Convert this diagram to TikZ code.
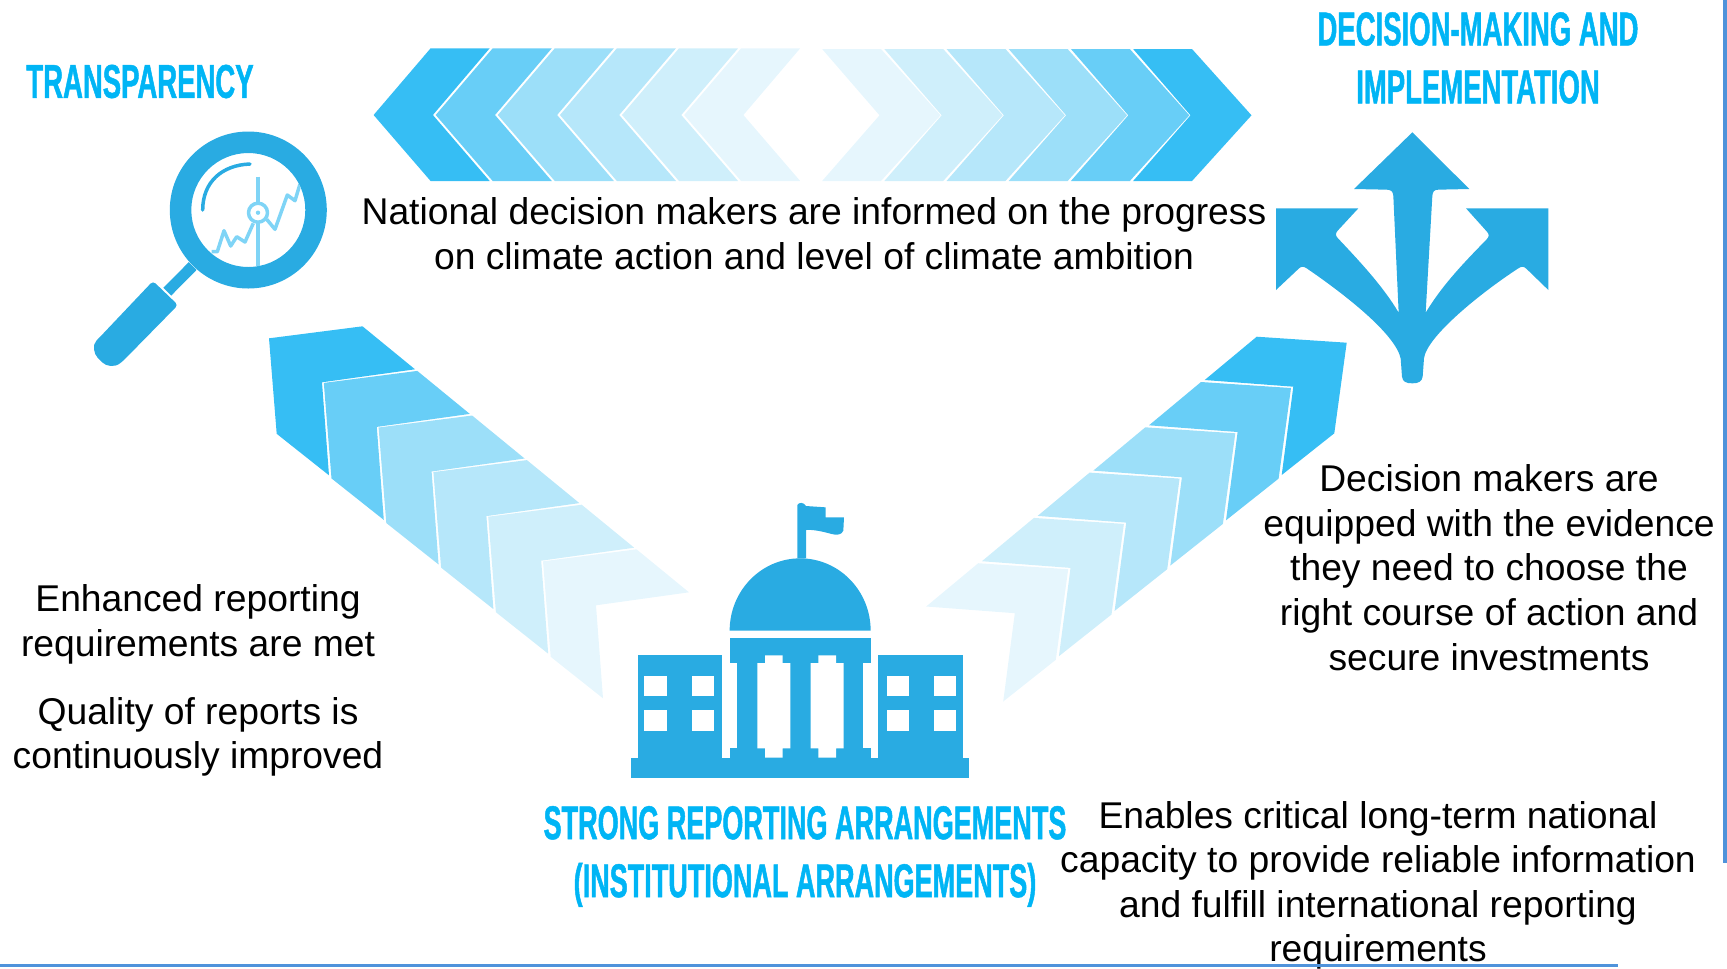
\documentclass[tikz,border=0pt]{standalone}
\usepackage{fontspec}
\setmainfont{Liberation Sans}
\newfontfamily\headfont[FakeStretch=0.58,FakeBold=1]{Liberation Sans Bold}
\newfontfamily\longheadfont[FakeStretch=0.57,FakeBold=1]{Liberation Sans Bold}
\definecolor{iconblue}{HTML}{29ABE2}
\definecolor{headblue}{HTML}{00B5F5}
\definecolor{ruleblue}{HTML}{4F93DB}
\definecolor{chartblue}{HTML}{7FD4F6}
\definecolor{shadeA}{HTML}{36BEF4}
\definecolor{shadeB}{HTML}{68CEF7}
\definecolor{shadeC}{HTML}{9CDFF9}
\definecolor{shadeD}{HTML}{B6E7FA}
\definecolor{shadeE}{HTML}{CFEFFB}
\definecolor{shadeF}{HTML}{E6F6FD}
\tikzset{
    bodytext/.style={align=center,inner sep=0pt,font=\fontsize{21.2}{25.4}\selectfont},
    headtext/.style={align=center,inner sep=0pt,text=headblue,font=\fontsize{27}{33}\selectfont\headfont},
    chartline/.style={draw=chartblue,line width=0.07cm,line join=round}
}
\begin{document}
\begin{tikzpicture}[x=0.02cm,y=-0.02cm]
    \useasboundingbox (0,0) rectangle (1727,968);
    %top band, left half then right half
    \foreach \i/\shade in {0/shadeA,1/shadeB,2/shadeC,3/shadeD,4/shadeE,5/shadeF}{
        \fill[\shade] (373.6+62.1*\i,115)--(430.6+62.1*\i,48.3)--(489.7+62.1*\i,48.3)--(432.9+62.1*\i,115)--(489.7+62.1*\i,181)--(430.6+62.1*\i,181)--cycle;
    }
    \foreach \i/\shade in {0/shadeF,1/shadeE,2/shadeD,3/shadeC,4/shadeB,5/shadeA}{
        \fill[\shade] (822.1+62.2*\i,49)--(881+62.2*\i,49)--(940.5+62.2*\i,115.3)--(881+62.2*\i,181)--(822.1+62.2*\i,181)--(879.5+62.2*\i,115.3)--cycle;
    }
    %left diagonal band
    \foreach \i/\shade in {0/shadeA,1/shadeB,2/shadeC,3/shadeD,4/shadeE,5/shadeF}{
        \begin{scope}[shift={(269+54.8*\i,338.3+44.6*\i)}]
            \fill[\shade] (0,0)--(93.5,-12)--(146,31)--(53,44)--(60,137)--(7.7,95.5)--cycle;
        \end{scope}
    }
    %right diagonal band
    \foreach \i/\shade in {0/shadeA,1/shadeB,2/shadeC,3/shadeD,4/shadeE,5/shadeF}{
        \begin{scope}[shift={(1346.7-55.7*\i,342.7+45.3*\i)}]
            \fill[\shade] (0,0)--(-90,-6)--(-142,37.3)--(-53.4,44)--(-65,132.3)--(-12.4,90.6)--cycle;
        \end{scope}
    }
    %magnifier
    \fill[iconblue,even odd rule] (248.3,210) circle(78.5) (248.3,210) circle(57);
    \draw[iconblue,line width=0.22cm] (192.7,266)--(167.3,291.7);
    \fill[iconblue,rounded corners=2pt] (153,281)--(178,305)--(123,361) .. controls (114,368) and (106,366) .. (100,360)
        .. controls (94,354) and (92,345) .. (99,338)--cycle;
    \draw[iconblue,line width=0.07cm,line cap=round] (202.7,210) .. controls (202.7,182) and (222,165) .. (250,164);
    \begin{scope}
        \clip (248.3,210) circle(57);
        \draw[chartline] (211.7,251.7)--(217.3,251.7)--(224,230.7)--(230.7,246)--(236.7,236.7)--(245,242)--(253.3,223.3);
        \draw[chartline] (266.7,219.3)--(275,229.3)--(287.3,195)--(295,200.7)--(300,184);
        \draw[chartline] (258,176.7)--(258,203);
        \draw[chartline] (258,222.5)--(258,270);
        \draw[chartline] (258,212.7) circle(9.5);
        \fill[chartblue] (258,212.7) circle(2.2);
    \end{scope}
    %three way arrow
    \begin{scope}[shift={(1260,120)},x=0.02cm/3,y=-0.02cm/3]
        \fill[iconblue] (457,37)--(628,207)--(535,209) .. controls (522,209) and (518,215) .. (517,228)
            --(497,578) .. controls (550,490) and (620,420) .. (680,358) .. controls (688,350) and (688,342) .. (680,334)
            --(618,265)--(865,265)--(865,510)--(800,447) .. controls (792,439) and (785,438) .. (775,445)
            .. controls (660,520) and (500,650) .. (492,715)--(488,770) .. controls (486,785) and (475,790) .. (457,790)
            .. controls (438,790) and (428,785) .. (426,770)--(422,715) .. controls (405,640) and (250,520) .. (140,445)
            .. controls (130,438) and (122,439) .. (115,447)--(48,510)--(48,265)--(295,265)--(233,332)
            .. controls (226,340) and (226,346) .. (233,354) .. controls (300,425) and (370,500) .. (416,578)
            --(400,228) .. controls (399,215) and (394,209) .. (380,209)--(282,207)--cycle;
    \end{scope}
    %parliament building
    \begin{scope}[shift={(620,490)},x=0.02cm/3,y=-0.02cm/3]
        \fill[iconblue] (33,803) rectangle (1048,864);
        \fill[iconblue] (55,496) rectangle (305,803);
        \fill[iconblue] (775,496) rectangle (1028,803);
        \fill[iconblue] (329,444) rectangle (752,519);
        \fill[iconblue] (352,519) rectangle (730,775);
        \fill[iconblue] (329,775) rectangle (752,803);
        \fill[iconblue] (329,422) arc[start angle=180,end angle=360,x radius=211.5,y radius=217]--cycle;
        \fill[iconblue] (532,205)--(532,45) .. controls (538,36) and (550,36) .. (558,48)--(617,52)--(617,82)--(672,82)--(670,122)
            .. controls (665,135) and (650,136) .. (635,132) .. controls (610,125) and (580,118) .. (558,120)--(558,205)--cycle;
        \foreach \wx in {73,215,800,941}{
            \foreach \wy in {557,661}{
                \fill[white] (\wx,\wy) rectangle ++(67,62);
            }
        }
        \foreach \hx in {0,160}{
            \fill[white] (435+\hx,519)--(435+\hx,496)--(488+\hx,496)--(488+\hx,519)--(511+\hx,519)--(511+\hx,775)--(488+\hx,775)--(488+\hx,803)--(435+\hx,803)--(435+\hx,775)--(412+\hx,775)--(412+\hx,519)--cycle;
        }
    \end{scope}
    %headings
    \node[headtext] (transparency) at (140,81.5) {TRANSPARENCY};
    \node[headtext] (decision) at (1478,58) {DECISION-MAKING AND\\IMPLEMENTATION};
    \node[headtext,font=\fontsize{27}{33}\selectfont\longheadfont] (arrangements) at (805,856.5) {STRONG REPORTING ARRANGEMENTS\\(INSTITUTIONAL ARRANGEMENTS)};
    %body text
    \node[bodytext] (informed) at (814,233.5) {National decision makers are informed on the progress\\on climate action and level of climate ambition};
    \node[bodytext] (reporting) at (198,624.3) {Enhanced reporting\\requirements are met};
    \node[bodytext] (quality) at (198,737) {Quality of reports is\\continuously improved};
    \node[bodytext] (equipped) at (1489,567.5) {Decision makers are\\equipped with the evidence\\they need to choose the\\right course of action and\\secure investments};
    \node[bodytext] (capacity) at (1378,885.3) {Enables critical long-term national\\capacity to provide reliable information\\and fulfill international reporting\\requirements};
    %slide edges
    \fill[ruleblue] (0,964) rectangle (1618,967);
    \fill[ruleblue] (1723,0) rectangle (1727,863);
\end{tikzpicture}
\end{document}
